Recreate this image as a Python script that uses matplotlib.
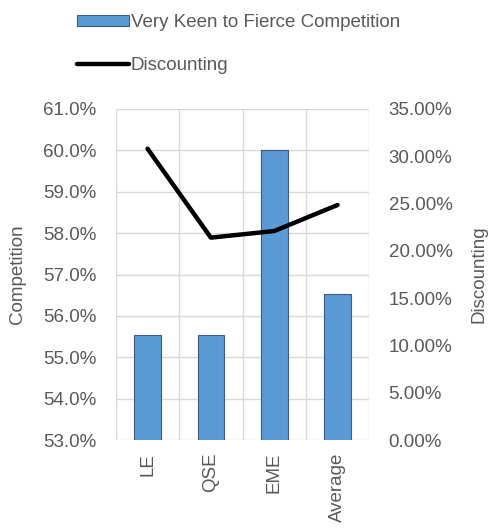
import matplotlib.pyplot as plt
from matplotlib.ticker import FuncFormatter

categories = ['LE', 'QSE', 'EME', 'Average']
competition = [55.55, 55.55, 60.0, 56.52]
discounting = [30.8, 21.4, 22.1, 24.85]

plt.rcParams['font.family'] = ['Liberation Sans', 'DejaVu Sans']
grey = '#595959'

fig = plt.figure(figsize=(4.89, 5.29), dpi=100)
ax = fig.add_axes([0.237, 0.168, 0.518, 0.626])
ax2 = ax.twinx()

x = range(len(categories))
bars = ax.bar(x, competition, width=0.42, color='#5b9bd5', edgecolor='#41597a',
              linewidth=0.8, label='Very Keen to Fierce Competition', zorder=3)
line, = ax2.plot(x, discounting, color='black', linewidth=3.2,
                 solid_capstyle='round', label='Discounting', zorder=4)

ax.set_ylim(53, 61)
ax.set_yticks([53 + i for i in range(9)])
ax.yaxis.set_major_formatter(FuncFormatter(lambda v, p: f'{v:.1f}%'))
ax2.set_ylim(0, 35)
ax2.set_yticks([5 * i for i in range(8)])
ax2.yaxis.set_major_formatter(FuncFormatter(lambda v, p: f'{v:.2f}%'))

ax.set_xlim(-0.5, len(categories) - 0.5)
ax.set_xticks(list(x))
ax.set_xticklabels(categories, rotation=90)

# grid: horizontal from left axis, vertical between categories
ax.yaxis.grid(True, color='#d9d9d9', linewidth=1, zorder=0)
for b in [i + 0.5 for i in range(-1, len(categories))]:
    ax.axvline(b, color='#d9d9d9', linewidth=1, zorder=0)
ax.set_axisbelow(True)

for a in (ax, ax2):
    for s in a.spines.values():
        s.set_visible(False)
    a.tick_params(length=0, colors=grey, labelsize=13.5)
ax.tick_params(axis='y', pad=14)
ax2.tick_params(axis='y', pad=14)
ax.tick_params(axis='x', pad=9)

ax.set_ylabel('Competition', color=grey, fontsize=13.5)
ax.yaxis.set_label_coords(-0.355, 0.5)
ax2.set_ylabel('Discounting', color=grey, fontsize=13.5)
ax2.yaxis.set_label_coords(1.40, 0.5)

leg = fig.legend(handles=[bars, line], loc='upper left', bbox_to_anchor=(0.122, 1.005),
                 frameon=False, fontsize=13.5, labelcolor=grey, handlelength=2.8,
                 handletextpad=0.1, labelspacing=1.37, handleheight=0.55)

fig.savefig('out.png', dpi=100)
